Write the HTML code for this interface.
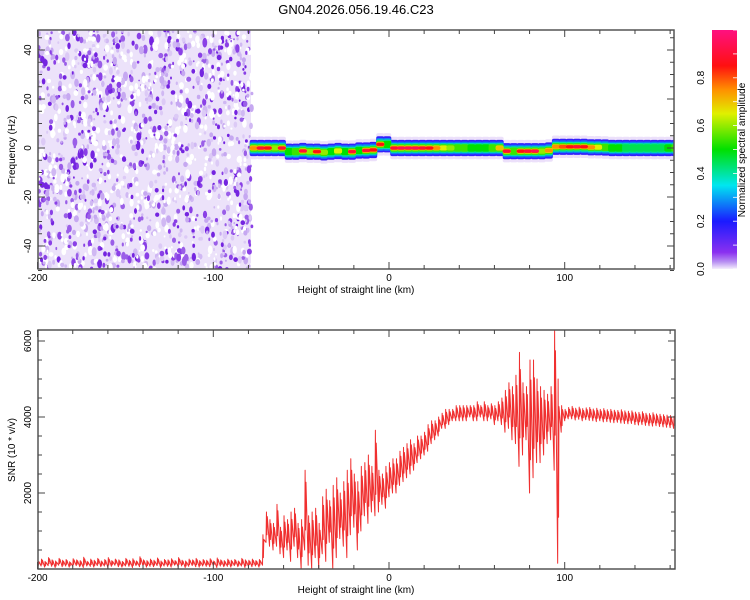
<!DOCTYPE html>
<html><head><meta charset="utf-8"><style>
html,body{margin:0;padding:0;background:#fff;}
svg{display:block;font-family:"Liberation Sans",sans-serif;}
</style></head><body>
<svg id="chart" width="750" height="600" viewBox="0 0 750 600">
<defs>
<linearGradient id="cbar" x1="0" y1="1" x2="0" y2="0">
<stop offset="0" stop-color="#f4eefc"/><stop offset="0.03" stop-color="#b890f2"/>
<stop offset="0.07" stop-color="#8a30f0"/><stop offset="0.2" stop-color="#1a1aff"/>
<stop offset="0.35" stop-color="#00e6f0"/><stop offset="0.5" stop-color="#00e000"/>
<stop offset="0.65" stop-color="#e0f000"/><stop offset="0.75" stop-color="#ff9000"/>
<stop offset="0.85" stop-color="#ff1010"/><stop offset="1" stop-color="#ff1080"/>
</linearGradient>
<clipPath id="clipTop"><rect x="38" y="30" width="636" height="239"/></clipPath>
<clipPath id="clipBot"><rect x="38" y="330" width="637" height="239"/></clipPath>
</defs>
<text x="356" y="14" text-anchor="middle" font-size="13">GN04.2026.056.19.46.C23</text>
<g id="topPlot" clip-path="url(#clipTop)"></g>
<g id="topAxes"></g>
<g id="botPlot" clip-path="url(#clipBot)"></g>
<g id="botAxes"></g>
<rect x="712" y="30" width="25" height="239" fill="url(#cbar)"/>
<g id="cbAxes"></g>
<text transform="translate(745,150) rotate(-90)" text-anchor="middle" font-size="10">Normalized spectral amplitude</text>
<text x="356" y="293" text-anchor="middle" font-size="10">Height of straight line (km)</text>
<text transform="translate(15,150) rotate(-90)" text-anchor="middle" font-size="10">Frequency (Hz)</text>
<text x="356" y="593" text-anchor="middle" font-size="10">Height of straight line (km)</text>
<text transform="translate(15,450) rotate(-90)" text-anchor="middle" font-size="10">SNR (10 * v/v)</text>
</svg>
<script>
// ---- data ----
const ridgeHeights=[-78,-74,-70,-66,-62,-58,-54,-50,-46,-42,-38,-34,-30,-26,-22,-18,-14,-10,-6,-2,2,6,10,14,18,22,26,30,34,38,42,46,50,54,58,62,66,70,74,78,82,86,90,94,98,102,106,110,114,118,122,126,130,134,138,142,146,150,154,158,162];
const ridgeAmp=[0.75,0.9,0.85,0.6,0.9,0.5,0.55,0.9,0.6,0.85,0.6,0.5,0.65,0.5,0.9,0.5,0.9,0.85,0.85,0.5,0.9,0.95,0.95,0.95,0.9,0.85,0.75,0.65,0.6,0.55,0.55,0.5,0.5,0.5,0.55,0.7,0.9,0.55,0.85,0.9,0.95,0.6,0.75,0.75,0.8,0.85,0.9,0.85,0.75,0.65,0.55,0.5,0.5,0.45,0.45,0.45,0.45,0.45,0.45,0.5,0.55];
const ridgeFreq=[0,0,0,0,0,-1.5,-1.5,-1.2,-1.5,-1.5,-1.8,-1.5,-1.2,-1.5,-1.5,-1,-1,-0.8,1.5,1.5,0,0,0,0,0,0,0,0,0,0,0,0,0,0,0,0,-1.3,-1.3,-1.3,-1.3,-1.3,-1.3,-1,0.5,0.5,0.5,0.5,0.5,0.3,0.3,0.2,0,0,0,0,0,0,0,0,0,0];
const xTicksTop=[-200,-100,0,100];
const yTicksTop=[-40,-20,0,20,40];
const cbTicks=[0,0.2,0.4,0.6,0.8];
const snrHeights=[];for(let h=-200;h<=162;h+=2)snrHeights.push(h);
const snrLo=[60,80,50,90,70,40,100,60,80,50,70,90,60,40,80,70,50,90,60,80,40,70,100,60,50,80,70,40,90,60,80,50,70,60,90,40,80,70,50,100,60,80,40,70,90,60,50,80,70,60,90,40,80,60,70,50,90,60,80,40,70,60,80,50,
100,700,600,500,600,400,300,500,200,600,300,0,500,100,0,300,0,400,200,700,0,300,800,600,300,900,1100,500,1000,1400,1200,1500,1400,1500,1700,1600,
1900,2000,2000,2200,2300,2400,2500,2600,2800,2900,3000,3100,3300,3400,3500,3700,3700,3800,3900,3900,3900,3900,3900,4000,3900,3900,4000,3900,3900,3950,3800,3900,3800,3600,3700,3400,3300,2700,3000,3400,2000,2400,2800,2800,3000,3300,3400,2600,150,3600,3900,
3950,3950,3920,3940,3900,3930,3910,3900,3880,3900,3870,3880,3860,3850,3860,3840,3830,3820,3830,3800,3790,3800,3780,3770,3760,3770,3750,3740,3730,3720,3700];
const snrHi=[220,260,200,300,240,210,280,230,250,190,270,240,220,310,200,260,230,280,210,250,300,220,260,240,200,280,230,270,210,320,240,220,260,230,290,210,250,240,270,220,300,230,210,260,240,280,220,250,230,270,210,290,240,220,260,230,250,210,280,240,230,260,220,250,
900,1500,1300,1200,1700,1100,1400,1300,1500,1600,1200,1300,2600,1400,1500,1600,1200,1900,2100,1800,2200,2400,2000,2300,2600,2900,2500,2300,2700,2800,3000,2700,3650,2600,2500,2700,
2800,2900,2900,3100,3200,3300,3400,3300,3500,3500,3600,3800,3900,3900,4000,4100,4200,4200,4200,4300,4300,4300,4300,4300,4300,4400,4300,4400,4300,4350,4300,4400,4500,4700,4900,4800,5100,5700,4900,4800,5500,5500,5000,4800,4700,4600,4800,6300,5000,4300,4200,
4250,4280,4230,4260,4220,4240,4250,4210,4230,4200,4220,4190,4200,4180,4170,4190,4160,4150,4160,4130,4120,4140,4100,4090,4110,4080,4070,4060,4050,4040,4020];
const xTicksBot=[-200,-100,0,100];
const yTicksBot=[2000,4000,6000];

// ---- scales ----
const NS="http://www.w3.org/2000/svg";
const PXKM=1.757,XZ=389;
const xs=h=>XZ+h*PXKM;
const yf=f=>148-f*2.45;
const ys=v=>569-v*0.038;
function mk(tag,attrs,parent){const e=document.createElementNS(NS,tag);for(const k in attrs)e.setAttribute(k,attrs[k]);parent.appendChild(e);return e;}
const stops=[[0,[244,238,252]],[0.03,[184,144,242]],[0.07,[138,48,240]],[0.2,[26,26,255]],[0.35,[0,230,240]],[0.5,[0,224,0]],[0.65,[224,240,0]],[0.75,[255,144,0]],[0.85,[255,16,16]],[1,[255,16,128]]];
function cmap(t){t=Math.max(0,Math.min(1,t));for(let i=1;i<stops.length;i++){if(t<=stops[i][0]){const a=stops[i-1],b=stops[i],u=(t-a[0])/(b[0]-a[0]);const c=a[1].map((v,j)=>Math.round(v+(b[1][j]-v)*u));return`rgb(${c})`;}}return"rgb(255,16,128)";}

// ---- spectrogram noise texture (left region) ----
const topG=document.getElementById('topPlot');
const noiseBg=mk('rect',{x:38,y:30,width:213,height:239,fill:'#ece2fa'},topG);


let seed=12345;const rnd=()=>{seed=(seed*1103515245+12345)%2147483648;return seed/2147483648;};
const ng=mk('g',{},topG);


const ncol=['#ffffff','#ffffff','#ffffff','#dccaf6','#d0b8f3','#c6a8f1','#9a5ee8','#8a40e6','#7424e0'];
for(let i=0;i<1700;i++){const x=38+rnd()*214,y=30+rnd()*240,c=ncol[Math.floor(rnd()*ncol.length)];const r=0.9+rnd()*1.6;
 mk('ellipse',{cx:x.toFixed(1),cy:y.toFixed(1),rx:r.toFixed(1),ry:(r*(1+rnd()*1.0)).toFixed(1),fill:c},ng);}

// ---- ridge ----
const levels=[0.0,0.05,0.15,0.28,0.42,0.56,0.7,0.82];
const halfw=[4.6,3.3,2.6,2.0,1.5,1.05,0.75,0.5];
const rg=mk('g',{},topG);


for(let L=0;L<levels.length;L++){
 for(let i=0;i<ridgeHeights.length;i++){
  const a=ridgeAmp[i];if(a<levels[L])continue;
  const col=L==0?'#ece0fa':cmap(Math.min(a,levels[L]+0.12));
  const x=xs(ridgeHeights[i])-2.3,w=4.6*PXKM;
  const y1=yf(ridgeFreq[i]+halfw[L]),y2=yf(ridgeFreq[i]-halfw[L]);
  const r=mk('rect',{x:x.toFixed(1),y:y1.toFixed(1),width:w.toFixed(1),height:(y2-y1).toFixed(1),rx:2,fill:col},rg);
  
  
 }
}

// ---- axes helper ----
function axes(g,x1,y1,x2,y2,xt,yt,yminor,yfn,xminorStep,xmin,xmax,ymin,ymax,ylabels){
 const fr=mk('rect',{x:x1,y:y1,width:x2-x1,height:y2-y1,fill:'none',stroke:'#555','stroke-width':1.5},g);
 
 
 for(let h=Math.ceil(xmin/xminorStep)*xminorStep;h<=xmax;h+=xminorStep){const x=xs(h),L=(h%100===0)?7:4;
  mk('line',{x1:x,y1:y2,x2:x,y2:y2-L,stroke:'#444'},g);mk('line',{x1:x,y1:y1,x2:x,y2:y1+L,stroke:'#444'},g);}
 for(const h of xt){const t=mk('text',{x:xs(h),y:y2+12,'text-anchor':'middle','font-size':10},g);t.textContent=h;
  
  }
 for(let v=Math.ceil(ymin/yminor)*yminor;v<=ymax;v+=yminor){const y=yfn(v),L=(yt.includes(v))?7:4;
  mk('line',{x1:x1,y1:y,x2:x1+L,y2:y,stroke:'#444'},g);mk('line',{x1:x2,y1:y,x2:x2-L,y2:y,stroke:'#444'},g);}
 for(const v of ylabels){const y=yfn(v);const t=mk('text',{transform:`translate(31,${y}) rotate(-90)`,'text-anchor':'middle','font-size':10},g);t.textContent=v;
  
  }
}
axes(document.getElementById('topAxes'),38,30,674,269,xTicksTop,yTicksTop,5,yf,20,-200,162,-50,48,yTicksTop);

// ---- SNR line ----
const botG=document.getElementById('botPlot');
let d='';
for(let i=0;i<snrHeights.length;i++){const x=xs(snrHeights[i]),lo=snrLo[i],hi=snrHi[i];
 const mA=lo+0.25*(hi-lo),mB=lo+0.85*(hi-lo);
 d+=(i?'L':'M')+x.toFixed(2)+','+ys(lo).toFixed(1)+'L'+(x+0.45).toFixed(2)+','+ys(hi).toFixed(1)+'L'+(x+0.9).toFixed(2)+','+ys(mA).toFixed(1)+'L'+(x+1.3).toFixed(2)+','+ys(mB).toFixed(1);}
const line=mk('path',{d:d,fill:'none',stroke:'#f03030','stroke-width':1,'stroke-linejoin':'round'},botG);


axes(document.getElementById('botAxes'),38,330,675,569,xTicksBot,yTicksBot,500,ys,20,-200,162,0,6300,yTicksBot);

// ---- colorbar axis ----
const cb=document.getElementById('cbAxes');
const cby=t=>269-t*239;
for(let t=0;t<=1.0001;t+=0.1){mk('line',{x1:737,y1:cby(t),x2:733,y2:cby(t),stroke:'#fff','stroke-width':0.8},cb);}
for(const t of cbTicks){const s=mk('text',{transform:`translate(704,${cby(t)}) rotate(-90)`,'text-anchor':'middle','font-size':10},cb);s.textContent=t.toFixed(1);
 
 }
</script>
</body></html>
